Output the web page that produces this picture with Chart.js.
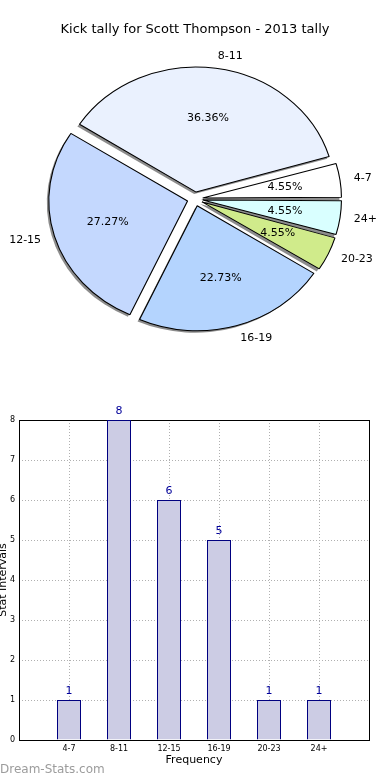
<!DOCTYPE html>
<html>
<head>
<meta charset="utf-8">
<script src="https://cdn.jsdelivr.net/npm/chart.js@4.4.1/dist/chart.umd.min.js"></script>
<style>
  body { margin: 0; background: #fff; }
  #wrap { position: relative; width: 390px; height: 780px; overflow: hidden; }
  canvas { position: absolute; left: 0; }
  #pie { top: 0; }
  #bars { top: 390px; }
  #mark { position: absolute; left: 0; top: 762px; font: 12px "DejaVu Sans", sans-serif; color: #9c9c9c; }
</style>
</head>
<body>
<div id="wrap">
  <canvas id="pie" width="390" height="390"></canvas>
  <canvas id="bars" width="390" height="390"></canvas>
  <div id="mark">Dream-Stats.com</div>
</div>
<script>
var categories = ['4-7', '8-11', '12-15', '16-19', '20-23', '24+'];
var counts = [1, 8, 6, 5, 1, 1];
var sliceColors = ['#FFFFFF', '#EAF1FE', '#C4D8FE', '#B4D4FE', '#D0EB8B', '#D9FFFF'];

Chart.defaults.font.family = '"DejaVu Sans", sans-serif';
Chart.defaults.color = '#000';

var total = counts.reduce(function (a, b) { return a + b; }, 0);

// matplotlib goes counter-clockwise from 3 o'clock, chart.js clockwise -> reverse
var pieLabels = categories.slice().reverse();
var pieCounts = counts.slice().reverse();
var pieColors = sliceColors.slice().reverse();

var squash = 1.11; // pie is drawn a bit wider than tall
var explode = 28;  // chart.js moves a slice by offset/4

var piePlugin = {
    id: 'pieLook',
    beforeDatasetsDraw: function (chart) {
        var ctx = chart.ctx;
        var meta = chart.getDatasetMeta(0);
        var R = meta.controller.outerRadius;
        var c = meta.data[0];
        ctx.save();
        ctx.translate(c.x, c.y);
        ctx.scale(squash, 1);
        ctx.translate(-c.x, -c.y);
        // shadows first, then chart.js draws the slices on top
        ctx.fillStyle = 'rgba(0,0,0,0.45)';
        meta.data.forEach(function (arc) {
            // chart.js grows small exploded slices, keep them all the same size
            arc.outerRadius = R - explode / 4 * (1 - Math.sin(Math.min(Math.PI, arc.endAngle - arc.startAngle)));
            var mid = (arc.startAngle + arc.endAngle) / 2;
            var x = arc.x + Math.cos(mid) * explode / 4 - 2 / squash;
            var y = arc.y + Math.sin(mid) * explode / 4 + 2;
            ctx.beginPath();
            ctx.moveTo(x, y);
            ctx.arc(x, y, R, arc.startAngle, arc.endAngle);
            ctx.closePath();
            ctx.fill();
        });
    },
    afterDatasetsDraw: function (chart) {
        var ctx = chart.ctx;
        var meta = chart.getDatasetMeta(0);
        var R = meta.controller.outerRadius;
        ctx.restore();
        ctx.save();
        ctx.font = '11px "DejaVu Sans", sans-serif';
        ctx.fillStyle = '#000';
        ctx.textBaseline = 'middle';
        meta.data.forEach(function (arc, i) {
            var mid = (arc.startAngle + arc.endAngle) / 2;
            var cx = arc.x + Math.cos(mid) * explode / 4;
            var cy = arc.y + Math.sin(mid) * explode / 4;
            var lx = cx + Math.cos(mid) * R * 1.1;
            var ly = cy + Math.sin(mid) * R * 1.1;
            ctx.textAlign = Math.cos(mid) >= 0 ? 'left' : 'right';
            ctx.fillText(pieLabels[i], arc.x + (lx - arc.x) * squash, ly);
            var px = cx + Math.cos(mid) * R * 0.6;
            var py = cy + Math.sin(mid) * R * 0.6;
            ctx.textAlign = 'center';
            ctx.fillText((pieCounts[i] / total * 100).toFixed(2) + '%', arc.x + (px - arc.x) * squash, py);
        });
        ctx.restore();
    }
};

new Chart(document.getElementById('pie'), {
    type: 'pie',
    data: {
        labels: pieLabels,
        datasets: [{
            data: pieCounts,
            backgroundColor: pieColors,
            borderColor: '#000',
            borderWidth: 1,
            offset: explode
        }]
    },
    options: {
        responsive: false,
        animation: false,
        rotation: 90,
        radius: 125,
        layout: { padding: { top: 0, left: 0, right: 0, bottom: 29.6 } },
        plugins: {
            legend: { display: false },
            tooltip: { enabled: false },
            title: {
                display: true,
                text: 'Kick tally for Scott Thompson - 2013 tally',
                font: { size: 13, weight: 'normal' },
                color: '#000',
                padding: { top: 22, bottom: 0 }
            }
        }
    },
    plugins: [piePlugin]
});

var barPlugin = {
    id: 'barLook',
    beforeDatasetsDraw: function (chart) {
        var a = chart.chartArea, ctx = chart.ctx;
        ctx.save();
        ctx.strokeStyle = '#000';
        ctx.lineWidth = 1;
        ctx.strokeRect(Math.round(a.left) + 0.5, Math.round(a.top) + 0.5,
            Math.round(a.right - a.left), Math.round(a.bottom - a.top));
        ctx.restore();
    },
    afterDatasetsDraw: function (chart) {
        var ctx = chart.ctx;
        ctx.save();
        ctx.font = '11px "DejaVu Sans", sans-serif';
        ctx.fillStyle = '#00009A';
        ctx.textAlign = 'center';
        ctx.textBaseline = 'middle';
        chart.getDatasetMeta(0).data.forEach(function (bar, i) {
            ctx.fillText(String(counts[i]), bar.x, bar.y - 9);
        });
        ctx.restore();
    }
};

new Chart(document.getElementById('bars'), {
    type: 'bar',
    data: {
        datasets: [{
            data: counts.map(function (v, i) { return { x: i, y: v }; }),
            backgroundColor: '#CCCCE4',
            borderColor: '#000080',
            borderWidth: 1,
            barPercentage: 0.48,
            categoryPercentage: 1
        }]
    },
    options: {
        responsive: false,
        animation: false,
        layout: { padding: { top: 30, right: 21, left: 0, bottom: 0 } },
        plugins: { legend: { display: false }, tooltip: { enabled: false } },
        scales: {
            x: {
                type: 'linear',
                min: -1,
                max: 6,
                offset: false,
                afterFit: function (s) { s.height = 40; },
                grid: { color: '#b0b0b0', drawTicks: false, offset: false },
                border: { display: false, dash: [1, 2] },
                ticks: {
                    stepSize: 1,
                    autoSkip: false,
                    maxRotation: 0,
                    padding: 4,
                    font: { size: 8 },
                    callback: function (v) { return categories[v] !== undefined ? categories[v] : ''; }
                },
                title: { display: true, text: 'Frequency', font: { size: 11 }, padding: { top: 0, bottom: 13.4 } }
            },
            y: {
                min: 0,
                max: 8,
                afterFit: function (s) { s.width = 19; },
                grid: { color: '#b0b0b0', drawTicks: false },
                border: { display: false, dash: [1, 2] },
                ticks: { stepSize: 1, padding: 4, font: { size: 8 } },
                title: { display: true, text: 'Stat Intervals', font: { size: 11 }, padding: { top: -3.6, bottom: 0 } }
            }
        }
    },
    plugins: [barPlugin]
});
</script>
</body>
</html>
